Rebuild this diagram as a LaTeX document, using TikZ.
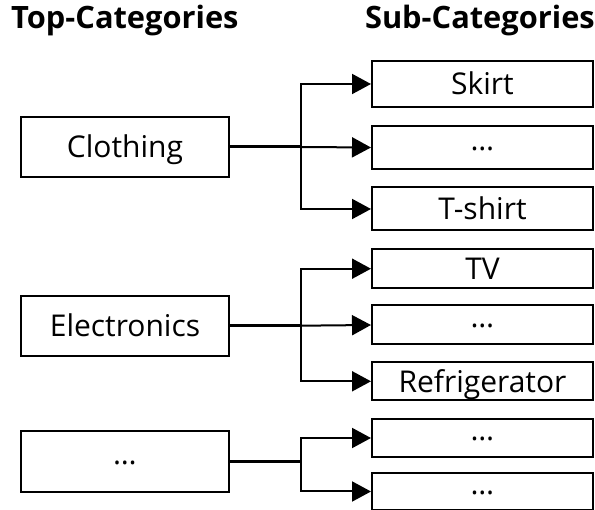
\documentclass[tikz,border=0pt]{standalone}
\usepackage{fontspec}
\setmainfont{Open Sans}
\usetikzlibrary{arrows.meta}
\newcommand{\middots}{\raisebox{8pt}{\ldots}}
\begin{document}
\begin{tikzpicture}[x=1pt,y=-1pt,
  lbl/.style={font=\fontsize{30}{32}\selectfont,text height=21.5pt,text depth=0pt},
  topbox/.style={lbl,draw=black,line width=2pt,minimum width=208pt,minimum height=60pt,inner sep=0pt},
  subbox/.style={lbl,draw=black,line width=2pt,minimum width=221pt,inner sep=0pt},
  heading/.style={font=\bfseries\fontsize{30.8}{33}\selectfont,inner sep=0pt},
  feed/.style={line width=3pt},
  branch/.style={line width=2pt,-{Triangle[length=19pt,width=20pt]}}
]
\useasboundingbox (0,0) rectangle (595,510);
\node[heading,anchor=base west] (th) at (11,29) {Top-Categories};
\node[heading,anchor=base east] (sh) at (595,29) {Sub-Categories};

% top categories
\node[topbox] (clo) at (125,147) {Clothing};
\node[topbox] (ele) at (125,325.7) {Electronics};
\node[topbox,minimum height=61pt] (oth) at (125,462) {\middots};

% sub categories
\node[subbox,minimum height=46pt] (c1) at (482.5,84) {Skirt};
\node[subbox,minimum height=43pt] (c2) at (482.5,147.5) {\middots};
\node[subbox,minimum height=43pt] (c3) at (482.5,209) {T-shirt};
\node[subbox,minimum height=39pt] (e1) at (482.5,268.7) {TV};
\node[subbox,minimum height=39pt] (e2) at (482.5,325) {\middots};
\node[subbox,minimum height=38pt] (e3) at (482.5,381.3) {Refrigerator};
\node[subbox,minimum height=38pt] (o1) at (482.5,438) {\middots};
\node[subbox,minimum height=37pt] (o2) at (482.5,491.5) {\middots};

% junction coordinates
\coordinate (jc) at (301,147);
\coordinate (je) at (301,325.7);
\coordinate (jo) at (301,462);

\draw[feed] (clo.east) -- (jc);
\draw[branch] (jc) |- (c1.west);
\draw[branch] (jc) -- (c2.west);
\draw[branch] (jc) |- (c3.west);

\draw[feed] (ele.east) -- (je);
\draw[branch] (je) |- (e1.west);
\draw[branch] (je) -- (e2.west);
\draw[branch] (je) |- (e3.west);

\draw[feed] (oth.east) -- (jo);
\draw[branch] (jo) |- (o1.west);
\draw[branch] (jo) |- (o2.west);
\end{tikzpicture}
\end{document}
